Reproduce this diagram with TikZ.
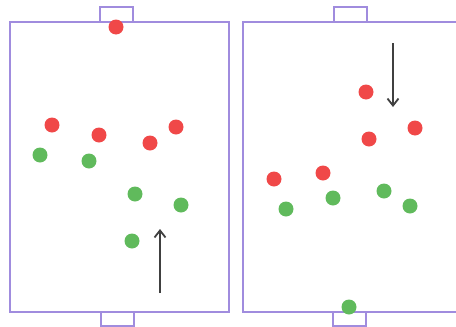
\documentclass[tikz,border=0pt]{standalone}
\usetikzlibrary{arrows.meta}
\definecolor{pitch}{RGB}{160,140,222}
\definecolor{redteam}{RGB}{240,72,72}
\definecolor{greenteam}{RGB}{96,186,92}
\begin{document}
\begin{tikzpicture}[x=1pt,y=-1pt,>={Straight Barb[length=7pt,width=11pt]}]
  \tikzset{red/.style={circle,fill=redteam,inner sep=0pt,minimum size=15pt},
    green/.style={circle,fill=greenteam,inner sep=0pt,minimum size=15pt},
    line/.style={draw=pitch,line width=1.4pt},
    run/.style={->,draw=black!75,line width=1.8pt}}
  \useasboundingbox (0,0) rectangle (456,327);

  % pitches and goals
  \draw[line] (10,22) rectangle (229,312);
  \draw[line] (100,22) -- (100,7) -- (133,7) -- (133,22);
  \draw[line] (101,312) -- (101,326) -- (134,326) -- (134,312);
  \draw[line] (456,22) -- (243,22) -- (243,312) -- (456,312);
  \draw[line] (334,22) -- (334,7) -- (367,7) -- (367,22);
  \draw[line] (333,312) -- (333,326) -- (366,326) -- (366,312);

  % left pitch
  \node[red] (L1) at (116,27)  {};
  \node[red] (L2) at (52,125)  {};
  \node[red] (L3) at (99,135)  {};
  \node[red] (L4) at (150,143) {};
  \node[red] (L5) at (176,127) {};
  \node[green] (L6) at (40,155)  {};
  \node[green] (L7) at (89,161)  {};
  \node[green] (L8) at (135,194) {};
  \node[green] (L9) at (181,205) {};
  \node[green] (L10) at (132,241) {};

  % right pitch
  \node[red] (R1) at (366,92)  {};
  \node[red] (R2) at (369,139) {};
  \node[red] (R3) at (415,128) {};
  \node[red] (R4) at (274,179) {};
  \node[red] (R5) at (323,173) {};
  \node[green] (R6) at (286,209) {};
  \node[green] (R7) at (333,198) {};
  \node[green] (R8) at (384,191) {};
  \node[green] (R9) at (410,206) {};
  \node[green] (R10) at (349,307) {};

  \coordinate (up1) at (160,293);
  \coordinate (up2) at (160,229);
  \coordinate (dn1) at (393,43);
  \coordinate (dn2) at (393,107);

  \draw[run] (up1) -- (up2);
  \draw[run] (dn1) -- (dn2);
\end{tikzpicture}
\end{document}
